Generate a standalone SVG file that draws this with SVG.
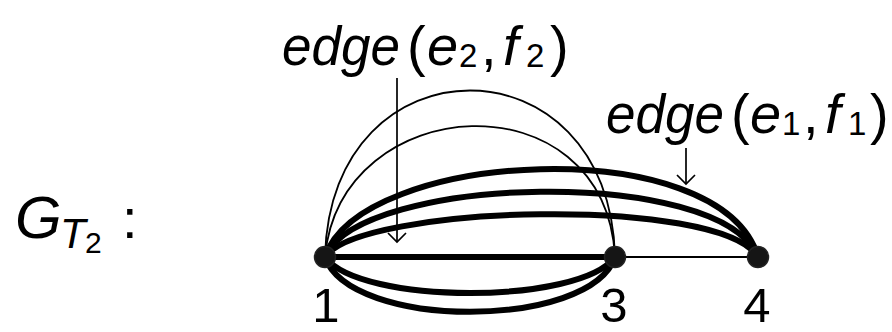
<svg xmlns="http://www.w3.org/2000/svg" width="892" height="332" viewBox="0 0 892 332">
<style>
.thin{fill:none;stroke:#000;stroke-width:1.8}
.thick{fill:none;stroke:#000;stroke-width:6}
.arr{fill:none;stroke:#000;stroke-width:1.7}
.node{fill:#151515;stroke:#222;stroke-width:1.5}
.lbl{font-family:"Liberation Sans",Arial,sans-serif;font-size:56px;fill:#000}
.it{font-style:italic}
.sub{font-size:33px;font-style:normal}
.num{font-family:"Liberation Sans",Arial,sans-serif;font-size:49px;fill:#000;text-anchor:middle}
</style>
<rect width="892" height="332" fill="#fff"/>
<g id="connectors">
  <path class="thin" d="M325,257 C330,35 610,35 615,257"/>
  <path class="thin" d="M325,257 C340,90 605,75 615,257"/>
  <path class="thick" d="M325,257 C360,150 720,130 758,257"/>
  <path class="thick" d="M325,257 C360,175 720,165 758,257"/>
  <path class="thick" d="M325,257 C360,205 720,195 758,257"/>
  <line class="thick" x1="325" y1="257" x2="615" y2="257"/>
  <path class="thick" d="M325,257 C360,305 580,305 615,257"/>
  <path class="thick" d="M325,257 C350,330 590,330 615,257"/>
  <line class="thin" x1="615" y1="257" x2="758" y2="257"/>
</g>
<g id="node1"><circle class="node" cx="325" cy="257" r="10.5"/><text class="num" x="326" y="322">1</text></g>
<g id="node3"><circle class="node" cx="615" cy="257" r="10.5"/><text class="num" x="614" y="322">3</text></g>
<g id="node4"><circle class="node" cx="758" cy="257" r="10.5"/><text class="num" x="757" y="322">4</text></g>
<g id="label-e2f2">
  <line class="arr" x1="397" y1="78" x2="397" y2="242"/>
  <polyline class="arr" points="388,233 397,242 406,233"/>
  <text class="lbl" y="65"><tspan class="it" x="282" textLength="118" lengthAdjust="spacingAndGlyphs">edge</tspan><tspan x="407">(</tspan><tspan class="it" x="427">e</tspan><tspan class="sub" x="459" y="67">2</tspan><tspan x="481" y="65">,</tspan><tspan class="it" x="503">f</tspan><tspan class="sub" x="526" y="67">2</tspan><tspan x="550" y="65">)</tspan></text>
</g>
<g id="label-e1f1">
  <line class="arr" x1="686" y1="148" x2="686" y2="184"/>
  <polyline class="arr" points="677,175 686,184 695,175"/>
  <text class="lbl" y="133"><tspan class="it" x="606" textLength="118" lengthAdjust="spacingAndGlyphs">edge</tspan><tspan x="731">(</tspan><tspan class="it" x="750">e</tspan><tspan class="sub" x="782" y="135">1</tspan><tspan x="803" y="133">,</tspan><tspan class="it" x="825">f</tspan><tspan class="sub" x="848" y="135">1</tspan><tspan x="870" y="133">)</tspan></text>
</g>
<g id="graph-label">
  <text class="lbl" y="238" font-size="60"><tspan class="it" x="15" font-size="60">G</tspan><tspan class="it" x="60" y="248" font-size="42">T</tspan><tspan x="85" y="253" font-size="30">2</tspan><tspan x="122" y="238" font-size="56">:</tspan></text>
</g>
</svg>
